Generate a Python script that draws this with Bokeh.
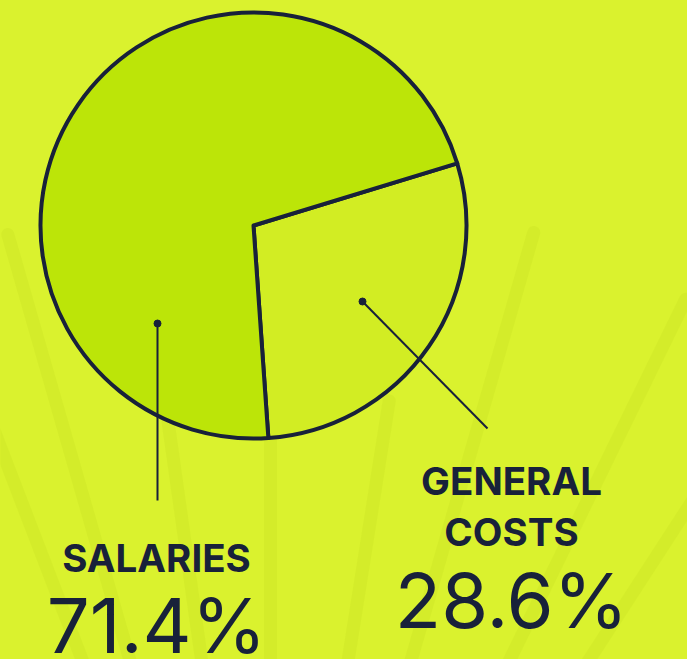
import numpy as np
from bokeh.plotting import figure
from bokeh.models import Range1d, ColumnDataSource
from bokeh.core.properties import value
from bokeh.embed import file_html
from bokeh.resources import INLINE

# ---- data ----
categories = ["GENERAL COSTS", "SALARIES"]
shares = [28.6, 71.4]
pct_labels = ["28.6%", "71.4%"]

# ---- styling / layout ----
BG = "#daf22e"
INK = "#18213a"
FILLS = ["#d2ed23", "#bce508"]
W, H = 687, 659
SMALL, BIG = 38.5, 76
# the svg backend draws the alphabetic baseline lower; compensate
SHIFT_SMALL, SHIFT_BIG = 15, 28

def fx(x):  # reference pixel x -> data x
    return x

def fy(y):  # reference pixel y -> data y
    return H - y

p = figure(width=W, height=H, output_backend="svg", toolbar_location=None,
           x_range=Range1d(0, W), y_range=Range1d(0, H), min_border=0)
p.axis.visible = False
p.grid.visible = False
p.outline_line_color = None
p.background_fill_color = BG
p.border_fill_color = BG

# decorative background rays (angles from a focal point far below)
focal = (fx(270), fy(1150))
ray_angles = [111, 106, 98, 90, 81, 74, 64, 57]
ray_start = [1000, 953, 738, 713, 759, 955, 947, 780]
xs0, ys0, xs1, ys1 = [], [], [], []
for a, r0 in zip(ray_angles, ray_start):
    t = np.radians(a)
    xs0.append(focal[0] + r0 * np.cos(t)); ys0.append(focal[1] + r0 * np.sin(t))
    xs1.append(focal[0] + 400 * np.cos(t)); ys1.append(focal[1] + 400 * np.sin(t))
p.segment(xs0, ys0, xs1, ys1, line_color="#d1e929", line_width=13, line_alpha=0.7,
          line_cap="round")

# pie
cx, cy, R = fx(253), fy(225), 213
start0 = np.radians(-86.0)
fr = np.array(shares) / sum(shares) * 2 * np.pi
ends = start0 + np.cumsum(fr)
starts = ends - fr
src = ColumnDataSource(dict(start=starts, end=ends, color=FILLS, cat=categories))
p.wedge(x=cx, y=cy, radius=R, start_angle="start", end_angle="end",
        fill_color="color", line_color=INK, line_width=4, line_join="round",
        source=src)

# leader lines and dots
p.segment([fx(157), fx(362)], [fy(323), fy(301)], [fx(157), fx(487)], [fy(500), fy(428)],
          line_color=INK, line_width=2)
p.scatter([fx(157), fx(362)], [fy(323), fy(301)], size=7, color=INK)

# labels
font = value("Inter")
p.text([fx(156)], [fy(572) + SHIFT_SMALL], text=[categories[1]], text_font=font,
       text_font_style="bold", text_font_size=f"{SMALL}px", text_color=INK,
       text_align="center", text_baseline="alphabetic")
p.text([fx(156)], [fy(652) + SHIFT_BIG], text=[pct_labels[1]], text_font=font,
       text_font_size=f"{BIG}px", text_color=INK, text_align="center",
       text_baseline="alphabetic")
p.text([fx(511), fx(511)], [fy(495) + SHIFT_SMALL, fy(546) + SHIFT_SMALL],
       text=categories[0].split(" "), text_font=font, text_font_style="bold",
       text_font_size=f"{SMALL}px", text_color=INK, text_align="center",
       text_baseline="alphabetic")
p.text([fx(511)], [fy(627) + SHIFT_BIG], text=[pct_labels[0]], text_font=font,
       text_font_size=f"{BIG}px", text_color=INK, text_align="center",
       text_baseline="alphabetic")

html = file_html(p, INLINE)
html = html.replace("<body>", '<body style="background:%s">' % BG)
open("out.html", "w").write(html)
